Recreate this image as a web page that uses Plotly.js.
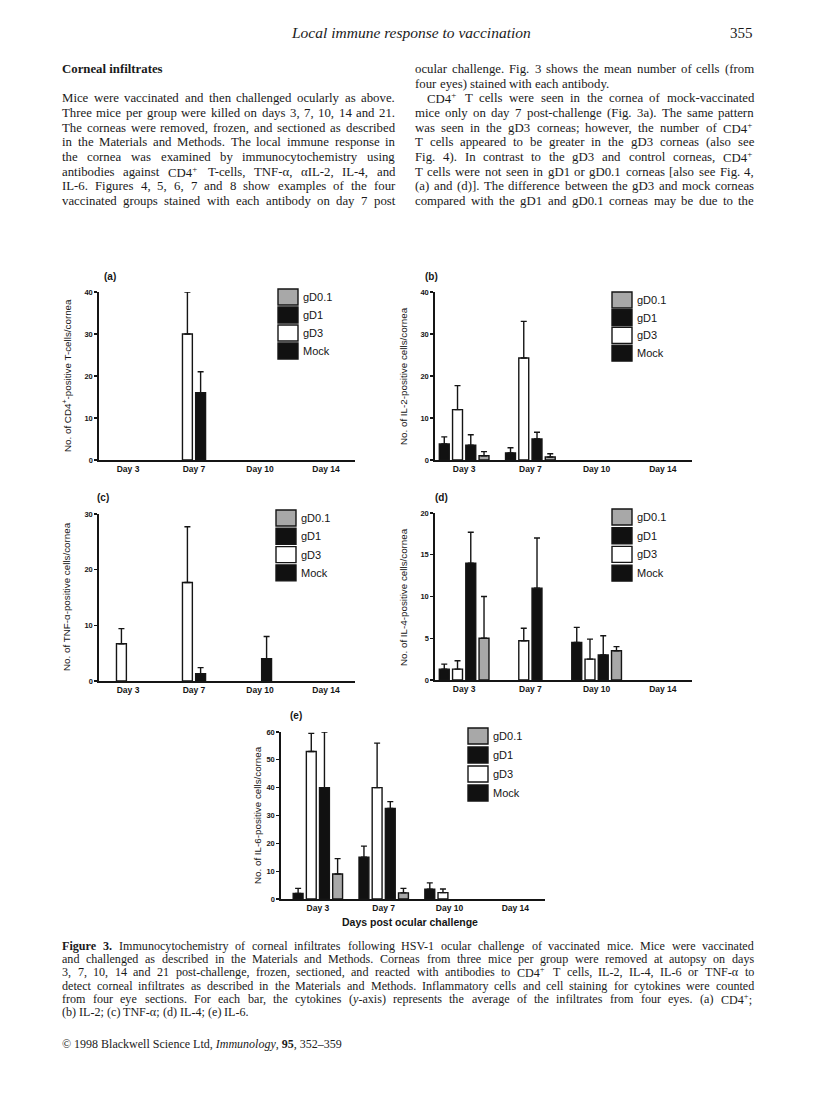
<!DOCTYPE html>
<html>
<head>
<meta charset="utf-8">
<script src="https://cdn.plot.ly/plotly-3.0.1.min.js"></script>
<style>
body { margin: 0; background: #fff; }
#plotArea { width: 816px; height: 1109px; }
</style>
</head>
<body>
<div id="plotArea"></div>
<script>
// categories and groups (bar order inside each day)
var days = ["Day 3", "Day 7", "Day 10", "Day 14"];
var groups = ["Mock", "gD3", "gD1", "gD0.1"];

// means, one row per group (Mock, gD3, gD1, gD0.1); tops = mean + error bar
var cd4Mean = [[null, null, null, null], [null, 30, null, null], [null, 16, null, null], [null, null, null, null]];
var cd4Top  = [[null, null, null, null], [null, 40, null, null], [null, 21, null, null], [null, null, null, null]];

var il2Mean = [[3.8, 1.7, null, null], [12, 24.3, null, null], [3.5, 5, null, null], [1, 0.7, null, null]];
var il2Top  = [[5.5, 2.9, null, null], [17.7, 33, null, null], [6, 6.6, null, null], [2, 1.5, null, null]];

var tnfMean = [[null, null, null, null], [6.7, 17.7, null, null], [null, 1.3, 4, null], [null, null, null, null]];
var tnfTop  = [[null, null, null, null], [9.4, 27.7, null, null], [null, 2.4, 8, null], [null, null, null, null]];

var il4Mean = [[1.3, null, 4.5, null], [1.3, 4.7, 2.5, null], [14, 11, 3, null], [5, null, 3.5, null]];
var il4Top  = [[1.9, null, 6.3, null], [2.3, 6.2, 4.9, null], [17.7, 17, 5.3, null], [10, null, 4, null]];

var il6Mean = [[2, 15, 3.5, null], [53, 40, 2.3, null], [40, 32.5, null, null], [9, 2.2, null, null]];
var il6Top  = [[3.8, 19, 5.8, null], [59.5, 56, 3.6, null], [60, 35, null, null], [14.5, 3.8, null, null]];

var W = 816, H = 1109;
function px(x) { return x / W; }
function py(y) { return 1 - y / H; }

var ink = "#151515";
var fills = ["#111111", "#ffffff", "#111111", "#a8a8a8"];
var sans = "Liberation Sans, Arial, sans-serif";
var serif = "Liberation Serif, Times New Roman, serif";

// panel frames in page pixels
var panels = [
  {mean: cd4Mean, top: cd4Top, left: 99, right: 355, top_: 292, bottom: 460, ymax: 40, dt: 10, xr: [-0.44, 3.44],
   tag: "(a)", tagAt: [110, 277], ytitle: "No. of CD4<sup>+</sup>-positive T-cells/cornea", ytAt: [67, 376],
   leg: [278, 297, 18]},
  {mean: il2Mean, top: il2Top, left: 435, right: 692, top_: 292, bottom: 460, ymax: 40, dt: 10, xr: [-0.44, 3.44],
   tag: "(b)", tagAt: [431, 277], ytitle: "No. of IL-2-positive cells/cornea", ytAt: [403, 376],
   leg: [612, 300, 17.7]},
  {mean: tnfMean, top: tnfTop, left: 99, right: 355, top_: 514, bottom: 681, ymax: 30, dt: 10, xr: [-0.44, 3.44],
   tag: "(c)", tagAt: [103, 497], ytitle: "No. of TNF-α-positive cells/cornea", ytAt: [66, 597],
   leg: [276, 518, 18.3]},
  {mean: il4Mean, top: il4Top, left: 435, right: 692, top_: 513, bottom: 680, ymax: 20, dt: 5, xr: [-0.44, 3.44],
   tag: "(d)", tagAt: [441, 497], ytitle: "No. of IL-4-positive cells/cornea", ytAt: [403, 597],
   leg: [612, 517, 18.7]},
  {mean: il6Mean, top: il6Top, left: 281, right: 545, top_: 732, bottom: 899, ymax: 60, dt: 10, xr: [-0.56, 3.45],
   tag: "(e)", tagAt: [296, 715], ytitle: "No. of IL-6-positive cells/cornea", ytAt: [257, 815],
   leg: [468, 736, 19]}
];

var data = [];
var layout = {
  width: W, height: H,
  margin: {l: 0, r: 0, t: 0, b: 0},
  paper_bgcolor: "#ffffff", plot_bgcolor: "rgba(0,0,0,0)",
  barmode: "group", bargap: 0.2, bargroupgap: 0.25,
  showlegend: false,
  font: {family: sans, color: ink},
  annotations: [], shapes: []
};

function note(x, y, text, font, extra) {
  var a = {xref: "paper", yref: "paper", x: px(x), y: py(y), xanchor: "center", yanchor: "middle",
           text: text, showarrow: false, font: font};
  for (var k in extra) a[k] = extra[k];
  layout.annotations.push(a);
}

panels.forEach(function (p, i) {
  var s = i === 0 ? "" : String(i + 1);
  groups.forEach(function (g, gi) {
    var up = p.top[gi].map(function (t, k) { return t == null ? null : t - p.mean[gi][k]; });
    data.push({
      type: "bar", name: g, x: days, y: p.mean[gi],
      xaxis: "x" + s, yaxis: "y" + s,
      marker: {color: fills[gi], line: {color: ink, width: 1.4}},
      error_y: {type: "data", symmetric: false, array: up, arrayminus: up.map(function () { return 0; }),
                color: ink, thickness: 1.4, width: 3},
      hoverinfo: "skip"
    });
  });

  layout["xaxis" + s] = {
    domain: [px(p.left), px(p.right)], anchor: "y" + s, type: "category", range: p.xr,
    showline: true, linecolor: ink, linewidth: 1.7, ticks: "", showgrid: false, zeroline: false,
    tickfont: {family: sans, size: 8.5, weight: 700, color: ink}, fixedrange: true
  };
  layout["yaxis" + s] = {
    domain: [py(p.bottom), py(p.top_)], anchor: "x" + s, range: [0, p.ymax], dtick: p.dt,
    showline: true, linecolor: ink, linewidth: 1.7, ticks: "outside", ticklen: 3, tickwidth: 1.3, tickcolor: ink,
    showgrid: false, zeroline: false, tickfont: {family: sans, size: 7.5, weight: 700, color: ink}, fixedrange: true
  };

  note(p.tagAt[0], p.tagAt[1], "<b>" + p.tag + "</b>", {family: sans, size: 10, color: ink});
  note(p.ytAt[0], p.ytAt[1], p.ytitle, {family: sans, size: 9.8, color: ink}, {textangle: -90});

  // legend: listed from last group to first
  [3, 2, 1, 0].forEach(function (gi, r) {
    var cy = p.leg[1] + r * p.leg[2];
    layout.shapes.push({type: "rect", xref: "paper", yref: "paper",
      x0: px(p.leg[0]), x1: px(p.leg[0] + 20), y0: py(cy + 8), y1: py(cy - 8),
      fillcolor: fills[gi], line: {color: ink, width: 1.4}});
    note(p.leg[0] + 23, cy, groups[gi], {family: sans, size: 11, color: ink}, {xanchor: "left"});
  });
});

note(410, 922, "<b>Days post ocular challenge</b>", {family: sans, size: 10.5, color: ink});

// ---- page text ----
var canvas = document.createElement("canvas");
var ctx = canvas.getContext("2d");
function wordWidth(w, size) {
  var b = /<b>/.test(w), it = /<i>/.test(w);
  ctx.font = (it ? "italic " : "") + (b ? "bold " : "") + size + 'px "Liberation Serif"';
  return ctx.measureText(w.replace(/<[^>]+>/g, "")).width;
}

// justified lines, word by word
function addLines(lines, x0, x1, y0, lineH, size0) {
  lines.forEach(function (ln, k) {
    var words = ln.t.split(" ");
    var start = x0 + (ln.indent || 0);
    var size = size0, widths, total, gap;
    do {
      widths = words.map(function (w) { return wordWidth(w, size); });
      total = widths.reduce(function (a, b) { return a + b; }, 0);
      gap = ln.last ? wordWidth(" ", size) : (x1 - start - total) / Math.max(1, words.length - 1);
      if (gap < 2.2) size -= 0.2;
    } while (gap < 2.2);
    var x = start;
    words.forEach(function (w, j) {
      note(x - 2, y0 + k * lineH, w, {family: serif, size: size, color: "#1a1a1a"}, {xanchor: "left"});
      x += widths[j] + gap;
    });
  });
}

var leftCol = [
  {t: "Mice were vaccinated and then challenged ocularly as above."},
  {t: "Three mice per group were killed on days 3, 7, 10, 14 and 21."},
  {t: "The corneas were removed, frozen, and sectioned as described"},
  {t: "in the Materials and Methods. The local immune response in"},
  {t: "the cornea was examined by immunocytochemistry using"},
  {t: "antibodies against CD4<sup>+</sup> T-cells, TNF-α, αIL-2, IL-4, and"},
  {t: "IL-6. Figures 4, 5, 6, 7 and 8 show examples of the four"},
  {t: "vaccinated groups stained with each antibody on day 7 post"}
];
var rightCol = [
  {t: "ocular challenge. Fig. 3 shows the mean number of cells (from"},
  {t: "four eyes) stained with each antibody.", last: true},
  {t: "CD4<sup>+</sup> T cells were seen in the cornea of mock-vaccinated", indent: 12},
  {t: "mice only on day 7 post-challenge (Fig. 3a). The same pattern"},
  {t: "was seen in the gD3 corneas; however, the number of CD4<sup>+</sup>"},
  {t: "T cells appeared to be greater in the gD3 corneas (also see"},
  {t: "Fig. 4). In contrast to the gD3 and control corneas, CD4<sup>+</sup>"},
  {t: "T cells were not seen in gD1 or gD0.1 corneas [also see Fig. 4,"},
  {t: "(a) and (d)]. The difference between the gD3 and mock corneas"},
  {t: "compared with the gD1 and gD0.1 corneas may be due to the"}
];
var caption = [
  {t: "<b>Figure</b> <b>3.</b> Immunocytochemistry of corneal infiltrates following HSV-1 ocular challenge of vaccinated mice. Mice were vaccinated"},
  {t: "and challenged as described in the Materials and Methods. Corneas from three mice per group were removed at autopsy on days"},
  {t: "3, 7, 10, 14 and 21 post-challenge, frozen, sectioned, and reacted with antibodies to CD4<sup>+</sup> T cells, IL-2, IL-4, IL-6 or TNF-α to"},
  {t: "detect corneal infiltrates as described in the Materials and Methods. Inflammatory cells and cell staining for cytokines were counted"},
  {t: "from four eye sections. For each bar, the cytokines (<i>y</i>-axis) represents the average of the infiltrates from four eyes. (a) CD4<sup>+</sup>;"},
  {t: "(b) IL-2; (c) TNF-α; (d) IL-4; (e) IL-6.", last: true}
];

addLines(leftCol, 62, 395, 98.3, 14.67, 12.8);
addLines(rightCol, 415, 754, 69, 14.67, 12.8);
addLines(caption, 62, 754, 946, 13.2, 12.1);

note(411, 33, "<i>Local immune response to vaccination</i>", {family: serif, size: 15.5, color: "#1a1a1a"});
note(755, 33, "355", {family: serif, size: 15, color: "#1a1a1a"}, {xanchor: "right"});
note(60, 69, "<b>Corneal infiltrates</b>", {family: serif, size: 12.8, color: "#1a1a1a"}, {xanchor: "left"});
note(60, 1044, "© 1998 Blackwell Science Ltd, <i>Immunology</i>, <b>95</b>, 352–359",
     {family: serif, size: 12, color: "#1a1a1a"}, {xanchor: "left"});

Plotly.newPlot("plotArea", data, layout, {staticPlot: true});
</script>
</body>
</html>
